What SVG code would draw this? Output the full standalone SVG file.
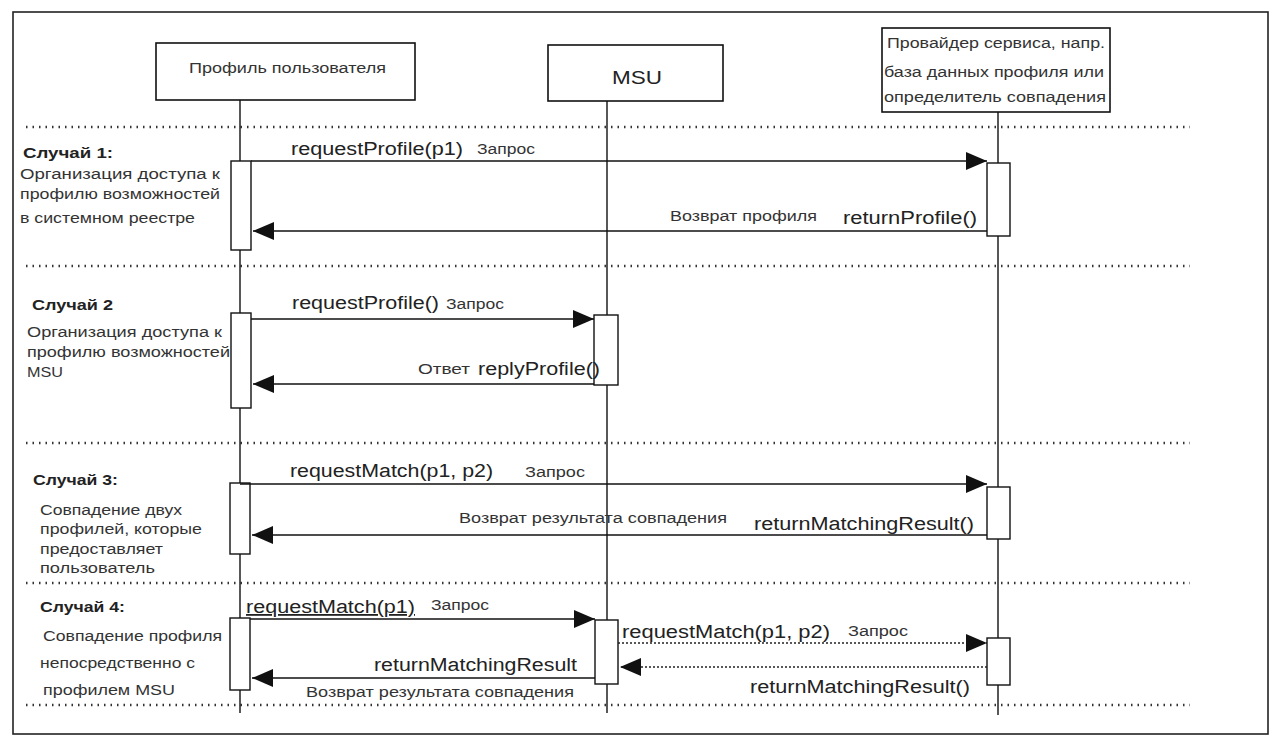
<svg xmlns="http://www.w3.org/2000/svg" width="1274" height="736" viewBox="0 0 1274 736">
<style>
text{font-family:"Liberation Sans",Arial,sans-serif;fill:#222}
.m{font-size:18px}
.s{font-size:14px;fill:#333}
.b{font-size:14px;font-weight:bold}
.box{fill:#fff;stroke:#111;stroke-width:1.6}
.act{fill:#fff;stroke:#111;stroke-width:1.4}
.life{stroke:#111;stroke-width:1.4;fill:none}
.sep{stroke:#333;stroke-width:2.5;stroke-dasharray:1.5 5;fill:none}
.msg{stroke:#111;stroke-width:1.6;fill:none;marker-end:url(#ah)}
.dmsg{stroke:#222;stroke-width:1.4;stroke-dasharray:2 2;fill:none;marker-end:url(#ah)}
</style>
<defs>
<marker id="ah" markerWidth="24" markerHeight="18" refX="21" refY="9" orient="auto" markerUnits="userSpaceOnUse">
<path d="M0,0 L21,9 L0,18 Z" fill="#111"/>
</marker>
</defs>
<rect x="0" y="0" width="1274" height="736" fill="#fff"/>
<rect x="13" y="12" width="1255" height="722" fill="none" stroke="#222" stroke-width="1.6"/>

<g id="separators">
<line class="sep" x1="26" y1="127" x2="1190" y2="127"/>
<line class="sep" x1="26" y1="266" x2="1190" y2="266"/>
<line class="sep" x1="26" y1="443" x2="1190" y2="443"/>
<line class="sep" x1="26" y1="583" x2="1190" y2="583"/>
<line class="sep" x1="26" y1="705" x2="1190" y2="705"/>
</g>

<g id="lifelines">
<line class="life" x1="240" y1="100" x2="240" y2="713"/>
<line class="life" x1="607" y1="101" x2="607" y2="713"/>
<line class="life" x1="998" y1="112" x2="998" y2="715"/>
</g>

<g id="node-user">
<rect class="box" x="156" y="43" width="259" height="57"/>
<text class="s" x="189" y="73" textLength="197" lengthAdjust="spacingAndGlyphs">Профиль пользователя</text>
</g>
<g id="node-msu">
<rect class="box" x="548" y="45" width="175" height="56"/>
<text class="m" x="612" y="84" textLength="50" lengthAdjust="spacingAndGlyphs">MSU</text>
</g>
<g id="node-provider">
<rect class="box" x="882" y="28" width="228" height="84"/>
<text class="s" x="887" y="48" textLength="218" lengthAdjust="spacingAndGlyphs">Провайдер сервиса, напр.</text>
<text class="s" x="884" y="77" textLength="220" lengthAdjust="spacingAndGlyphs">база данных профиля или</text>
<text class="s" x="884" y="102" textLength="222" lengthAdjust="spacingAndGlyphs">определитель совпадения</text>
</g>

<g id="activations">
<rect class="act" x="231" y="161" width="20" height="89"/>
<rect class="act" x="987" y="163" width="23" height="73"/>
<rect class="act" x="231" y="313" width="20" height="95"/>
<rect class="act" x="594" y="315" width="24" height="70"/>
<rect class="act" x="230" y="483" width="20" height="71"/>
<rect class="act" x="987" y="487" width="23" height="52"/>
<rect class="act" x="230" y="618" width="20" height="72"/>
<rect class="act" x="595" y="620" width="23" height="64"/>
<rect class="act" x="987" y="638" width="23" height="47"/>
</g>

<g id="connectors">
<line class="msg" x1="251" y1="161" x2="987" y2="161"/>
<line class="msg" x1="987" y1="231" x2="253" y2="231"/>
<line class="msg" x1="251" y1="319" x2="594" y2="319"/>
<line class="msg" x1="594" y1="384" x2="253" y2="384"/>
<line class="msg" x1="240" y1="484" x2="987" y2="484"/>
<line class="msg" x1="987" y1="535" x2="252" y2="535"/>
<line class="msg" x1="250" y1="619" x2="595" y2="619"/>
<line class="dmsg" x1="618" y1="643" x2="987" y2="643"/>
<line class="dmsg" x1="987" y1="667" x2="620" y2="667"/>
<line class="msg" x1="595" y1="678" x2="252" y2="678"/>
</g>

<g id="case1">
<text class="b" x="23" y="158" textLength="90" lengthAdjust="spacingAndGlyphs">Случай 1:</text>
<text class="s" x="20" y="179" textLength="200" lengthAdjust="spacingAndGlyphs">Организация доступа к</text>
<text class="s" x="20" y="199" textLength="200" lengthAdjust="spacingAndGlyphs">профилю возможностей</text>
<text class="s" x="20" y="223" textLength="175" lengthAdjust="spacingAndGlyphs">в системном реестре</text>
<text class="m" x="291" y="155" textLength="172" lengthAdjust="spacingAndGlyphs">requestProfile(p1)</text>
<text class="s" x="477" y="154" textLength="58" lengthAdjust="spacingAndGlyphs">Запрос</text>
<text class="s" x="670" y="221" textLength="147" lengthAdjust="spacingAndGlyphs">Возврат профиля</text>
<text class="m" x="843" y="224" textLength="134" lengthAdjust="spacingAndGlyphs">returnProfile()</text>
</g>

<g id="case2">
<text class="b" x="32" y="310" textLength="81" lengthAdjust="spacingAndGlyphs">Случай 2</text>
<text class="s" x="27" y="337" textLength="195" lengthAdjust="spacingAndGlyphs">Организация доступа к</text>
<text class="s" x="27" y="357" textLength="203" lengthAdjust="spacingAndGlyphs">профилю возможностей</text>
<text class="s" x="27" y="377" textLength="36" lengthAdjust="spacingAndGlyphs">MSU</text>
<text class="m" x="292" y="309" textLength="147" lengthAdjust="spacingAndGlyphs">requestProfile()</text>
<text class="s" x="446" y="309" textLength="58" lengthAdjust="spacingAndGlyphs">Запрос</text>
<text class="s" x="418" y="374" textLength="52" lengthAdjust="spacingAndGlyphs">Ответ</text>
<text class="m" x="478" y="375" textLength="122" lengthAdjust="spacingAndGlyphs">replyProfile()</text>
</g>

<g id="case3">
<text class="b" x="33" y="485" textLength="85" lengthAdjust="spacingAndGlyphs">Случай 3:</text>
<text class="s" x="40" y="515" textLength="142" lengthAdjust="spacingAndGlyphs">Совпадение двух</text>
<text class="s" x="40" y="534" textLength="162" lengthAdjust="spacingAndGlyphs">профилей, которые</text>
<text class="s" x="40" y="554" textLength="123" lengthAdjust="spacingAndGlyphs">предоставляет</text>
<text class="s" x="40" y="573" textLength="115" lengthAdjust="spacingAndGlyphs">пользователь</text>
<text class="m" x="290" y="477" textLength="203" lengthAdjust="spacingAndGlyphs">requestMatch(p1, p2)</text>
<text class="s" x="525" y="477" textLength="60" lengthAdjust="spacingAndGlyphs">Запрос</text>
<text class="s" x="459" y="523" textLength="268" lengthAdjust="spacingAndGlyphs">Возврат результата совпадения</text>
<text class="m" x="754" y="530" textLength="220" lengthAdjust="spacingAndGlyphs">returnMatchingResult()</text>
</g>

<g id="case4">
<text class="b" x="40" y="612" textLength="85" lengthAdjust="spacingAndGlyphs">Случай 4:</text>
<text class="s" x="43" y="641" textLength="179" lengthAdjust="spacingAndGlyphs">Совпадение профиля</text>
<text class="s" x="40" y="668" textLength="155" lengthAdjust="spacingAndGlyphs">непосредственно с</text>
<text class="s" x="43" y="695" textLength="132" lengthAdjust="spacingAndGlyphs">профилем MSU</text>
<text class="m" x="246" y="613" textLength="169" lengthAdjust="spacingAndGlyphs" text-decoration="underline">requestMatch(p1)</text>
<text class="s" x="431" y="610" textLength="58" lengthAdjust="spacingAndGlyphs">Запрос</text>
<text class="m" x="622" y="638" textLength="208" lengthAdjust="spacingAndGlyphs">requestMatch(p1, p2)</text>
<text class="s" x="848" y="636" textLength="60" lengthAdjust="spacingAndGlyphs">Запрос</text>
<text class="m" x="374" y="671" textLength="203" lengthAdjust="spacingAndGlyphs">returnMatchingResult</text>
<text class="s" x="306" y="697" textLength="268" lengthAdjust="spacingAndGlyphs">Возврат результата совпадения</text>
<text class="m" x="750" y="693" textLength="220" lengthAdjust="spacingAndGlyphs">returnMatchingResult()</text>
</g>
</svg>
